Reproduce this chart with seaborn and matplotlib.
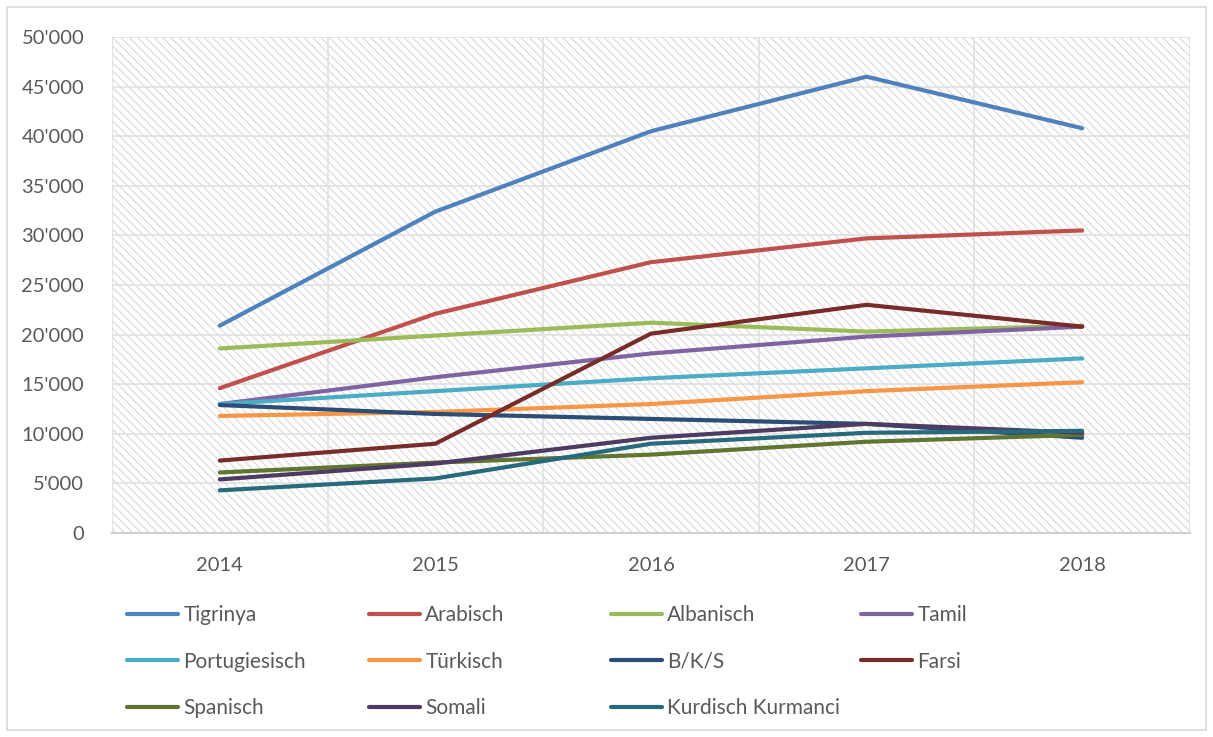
import numpy as np
import pandas as pd
import matplotlib
matplotlib.use("Agg")
import matplotlib.pyplot as plt
import matplotlib.ticker as ticker
from matplotlib.patches import Rectangle
from matplotlib.lines import Line2D
import seaborn as sns

# data
years = [2014, 2015, 2016, 2017, 2018]
languages = ["Tigrinya", "Arabisch", "Albanisch", "Tamil", "Portugiesisch", "Türkisch",
             "B/K/S", "Farsi", "Spanisch", "Somali", "Kurdisch Kurmanci"]
tigrinya = [20900, 32400, 40500, 46000, 40800]
arabisch = [14600, 22100, 27300, 29700, 30500]
albanisch = [18600, 19900, 21200, 20300, 20900]
tamil = [13000, 15700, 18100, 19800, 20800]
portugiesisch = [13000, 14300, 15600, 16600, 17600]
tuerkisch = [11800, 12200, 13000, 14300, 15200]
bks = [12900, 12000, 11500, 11000, 9600]
farsi = [7300, 9000, 20100, 23000, 20800]
spanisch = [6100, 7100, 7900, 9200, 9900]
somali = [5400, 7000, 9600, 11000, 10100]
kurdisch = [4300, 5500, 9000, 10100, 10300]
colors = ["#4F81BD", "#C0504D", "#9BBB59", "#8064A2", "#4BACC6", "#F79646",
          "#2C4D75", "#772C2A", "#5F7530", "#4D3B62", "#276A7C"]

series = [tigrinya, arabisch, albanisch, tamil, portugiesisch, tuerkisch,
          bks, farsi, spanisch, somali, kurdisch]
df = pd.DataFrame([(lang, y, v) for lang, vals in zip(languages, series)
                   for y, v in zip(years, vals)], columns=["Sprache", "Jahr", "Anzahl"])

sns.set_theme(style="white")
plt.rcParams['font.family'] = ['Lato', 'DejaVu Sans']
plt.rcParams['hatch.linewidth'] = 0.8
plt.rcParams['hatch.color'] = '#d9d9d9'
textcol = "#595959"

fig = plt.figure(figsize=(12.13, 7.37), dpi=100)
ax = fig.add_axes([112 / 1213, 1 - 533 / 737, (1190 - 112) / 1213, (533 - 37) / 737])

# hatched plot background
ax.add_patch(Rectangle((0, 0), 1, 1, transform=ax.transAxes, facecolor="white",
                       edgecolor="#d9d9d9", hatch="\\\\\\\\", lw=0, zorder=0))

sns.lineplot(data=df, x="Jahr", y="Anzahl", hue="Sprache", hue_order=languages,
             palette=colors, linewidth=3.0, legend=False, ax=ax, zorder=3,
             solid_capstyle="round")

ax.set_xlim(2013.5, 2018.5)
ax.set_ylim(0, 50000)
ax.set_xticks(years)
ax.set_xticks(np.arange(2013.5, 2019, 1), minor=True)
ax.yaxis.set_major_locator(ticker.MultipleLocator(5000))
ax.yaxis.set_major_formatter(ticker.FuncFormatter(
    lambda v, p: "0" if v == 0 else "{:,.0f}".format(v).replace(",", "'")))
ax.grid(axis="y", which="major", color="#e0e0e0", lw=1.2, zorder=1)
ax.grid(axis="x", which="minor", color="#e0e0e0", lw=1.2, zorder=1)
ax.set_axisbelow(True)
ax.tick_params(axis="both", which="both", length=0, colors=textcol, labelsize=14.5)
ax.tick_params(axis="y", pad=20)
ax.tick_params(axis="x", pad=17)
ax.set_xlabel("")
ax.set_ylabel("")
for s in ["top", "right", "left"]:
    ax.spines[s].set_visible(False)
ax.spines["bottom"].set_color("#d0d0d0")
ax.spines["bottom"].set_linewidth(1.5)

# legend, Excel style: four equal columns
col_x = [127, 369, 611, 861]
cols = [[0, 4, 8], [1, 5, 9], [2, 6, 10], [3, 7]]
for cx, idx in zip(col_x, cols):
    handles = [Line2D([], [], color=colors[i], lw=3.0, solid_capstyle="round") for i in idx]
    fig.legend(handles, [languages[i] for i in idx], loc="upper left",
               bbox_to_anchor=(cx / 1213, 1 - 605 / 737), frameon=False,
               fontsize=15, labelcolor=textcol, handlelength=2.45,
               handletextpad=0.25, labelspacing=1.28, borderaxespad=0, borderpad=0)

# figure border
fig.patches.append(Rectangle((7 / 1213, 7 / 737), 1 - 14 / 1213, 1 - 14 / 737,
                             transform=fig.transFigure, fill=False,
                             edgecolor="#d9d9d9", lw=1.2))

fig.savefig("out.png", dpi=100)
